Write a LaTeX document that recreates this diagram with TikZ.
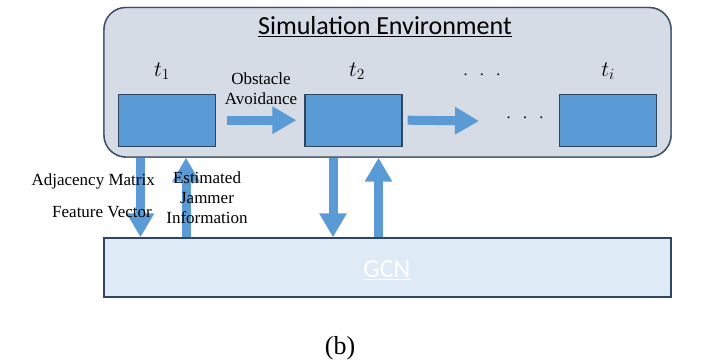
\documentclass[tikz,border=0pt]{standalone}
\usepackage{fix-cm}
\usepackage{fontspec}
\setmainfont{Liberation Serif}
\newfontfamily\calfont{Carlito}
\usetikzlibrary{arrows.meta}
\definecolor{simfill}{HTML}{D6DCE5}
\definecolor{simdraw}{HTML}{3E5068}
\definecolor{boxfill}{HTML}{5B9BD5}
\definecolor{boxdraw}{HTML}{2F4560}
\definecolor{gcnfill}{HTML}{DEEAF6}
\definecolor{arrowc}{HTML}{5B9BD5}
\tikzset{
  simbox/.style={draw=simdraw, fill=simfill, line width=1.4pt, rounded corners=22pt, minimum width=567pt, minimum height=149.5pt, inner sep=0pt},
  tbox/.style={draw=boxdraw, fill=boxfill, line width=1.2pt, minimum width=97pt, minimum height=52pt, inner sep=0pt},
  gcnbox/.style={draw=boxdraw, fill=gcnfill, line width=1.4pt, minimum width=567pt, minimum height=59pt, inner sep=0pt},
  blk/.style={draw=arrowc, line width=9pt, -{Triangle[length=24pt,width=26pt]}},
  lbl/.style={font=\fontsize{17}{20}\selectfont, inner sep=0pt, align=center},
  tlbl/.style={font=\fontsize{22}{22}\selectfont, inner sep=0pt},
  dots/.style={font=\fontsize{16}{16}\selectfont, inner sep=0pt},
}
\begin{document}
\begin{tikzpicture}[x=1pt,y=-1pt]
\useasboundingbox (0,0) rectangle (710,362);
% vertical arrows (drawn below boxes)
\coordinate (d1) at (140.5,0);
\coordinate (u1) at (186,0);
\coordinate (d2) at (333,0);
\coordinate (u2) at (378.5,0);
\coordinate (a2end) at (479,121);
\node[simbox] (sim) at (387.5,82.25) {};
\node[gcnbox] (gcn) at (387.5,267.5) {};
\draw[blk] (sim.south -| d1) -- (gcn.north -| d1);
\draw[blk] (gcn.north -| u1) -- (sim.south -| u1);
\draw[blk] (sim.south -| d2) -- (gcn.north -| d2);
\draw[blk] (gcn.north -| u2) -- (sim.south -| u2);
\node[simbox] at (sim.center) {};
\node[font=\calfont\fontsize{26}{26}\selectfont, inner sep=0pt] (title) at (385,27) {\underline{Simulation Environment}};
\node[tbox] (b1) at (166.8,120.2) {};
\node[tbox] (b2) at (353.5,120.2) {};
\node[tbox] (bi) at (608,120.2) {};
\node[tlbl] (t1) at (162,71) {$t_1$};
\node[tlbl] (t2) at (357,71) {$t_2$};
\node[tlbl] (ti) at (608,71) {$t_i$};
\node[dots] (dt) at (482,75) {.\hspace{12.5pt}.\hspace{12.5pt}.};
\node[dots] (db) at (525,118) {.\hspace{12.5pt}.\hspace{12.5pt}.};
\node[lbl] (obs) at (261,89) {Obstacle\\Avoidance};
\draw[blk] ([xshift=11pt]b1.east) -- ([xshift=-8pt]b2.west);
\draw[blk] ([xshift=5pt]b2.east) -- (a2end);
\node[font=\calfont\fontsize{26}{26}\selectfont, text=white, inner sep=0pt] (gcnt) at (387,270) {\underline{GCN}};
\node[lbl, anchor=east] (adj) at (155,181) {Adjacency Matrix};
\node[lbl, anchor=east] (fv) at (152,212) {Feature Vector};
\node[lbl] (est) at (207,198) {Estimated\\Jammer\\Information};
\node[font=\fontsize{26}{26}\selectfont, inner sep=0pt] (cap) at (340,348) {(b)};
\end{tikzpicture}
\end{document}
